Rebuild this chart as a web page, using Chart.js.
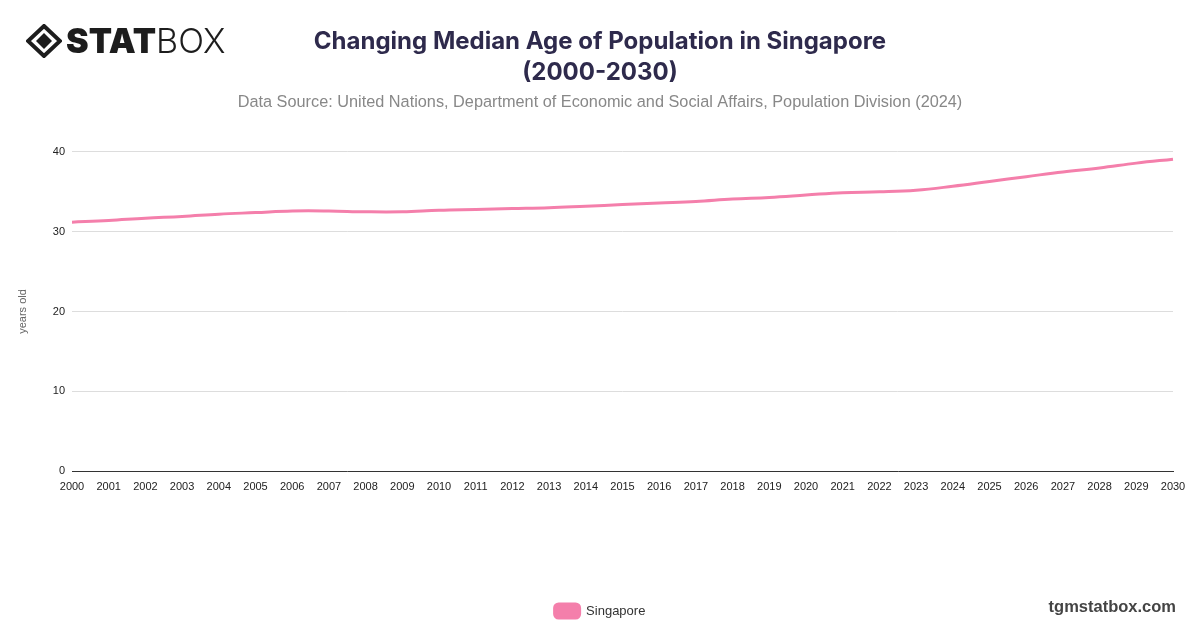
<!DOCTYPE html>
<html>
<head>
<meta charset="utf-8">
<script src="https://cdn.jsdelivr.net/npm/chart.js@4.4.1/dist/chart.umd.min.js"></script>
<style>
  html, body { margin: 0; padding: 0; background: #fff; }
  #wrap { position: relative; width: 1200px; height: 628px; }
  #logo { position: absolute; left: 26px; top: 20px; display: flex; align-items: center; font-family: Inter, sans-serif; color: #1d1d1d; }
  #logo .stat { font-size: 34px; font-weight: 900; margin-left: 4px; }
  #logo .box { font-size: 34px; font-weight: 300; }
  #site { position: absolute; right: 24px; top: 597px; font-family: "Liberation Sans", Arial, sans-serif; font-weight: bold; font-size: 16.5px; color: #444; }
</style>
</head>
<body>
<div id="wrap">
  <canvas id="ageChart" width="1200" height="628"></canvas>
  <div id="logo">
    <svg width="36" height="34" viewBox="0 0 36 34">
      <polygon points="18,2 34,17 18,32 2,17" fill="none" stroke="#1d1d1d" stroke-width="4"/>
      <polygon points="18,9 26,17 18,25 10,17" fill="#1d1d1d"/>
    </svg>
    <span class="stat">STAT</span><span class="box">BOX</span>
  </div>
  <div id="site">tgmstatbox.com</div>
</div>
<script>
  // chart data
  const years = ['2000','2001','2002','2003','2004','2005','2006','2007','2008','2009',
    '2010','2011','2012','2013','2014','2015','2016','2017','2018','2019',
    '2020','2021','2022','2023','2024','2025','2026','2027','2028','2029','2030'];
  const medianAge = [31.2, 31.4, 31.7, 31.9, 32.2, 32.4, 32.6, 32.6, 32.5, 32.5,
    32.7, 32.8, 32.9, 33.0, 33.2, 33.4, 33.6, 33.8, 34.1, 34.3,
    34.6, 34.9, 35.0, 35.2, 35.7, 36.3, 36.9, 37.5, 38.0, 38.6, 39.1];
  const yTicks = [0, 10, 20, 30, 40];

  const ctx = document.getElementById('ageChart');
  new Chart(ctx, {
    type: 'line',
    data: {
      labels: years,
      datasets: [{
        label: 'Singapore',
        data: medianAge,
        borderColor: '#f47fab',
        backgroundColor: '#f47fab',
        borderWidth: 3,
        tension: 0.4,
        pointRadius: 0,
        fill: false
      }]
    },
    options: {
      responsive: false,
      animation: false,
      layout: { padding: { left: 27, right: 27, top: 0, bottom: 0 } },
      plugins: {
        title: {
          display: true,
          text: ['Changing Median Age of Population in Singapore', '(2000-2030)'],
          color: '#2e2a4c',
          font: { family: 'Inter', size: 24, weight: 'bold', lineHeight: 1.3 },
          padding: { top: 26, bottom: 4 }
        },
        subtitle: {
          display: true,
          text: 'Data Source: United Nations, Department of Economic and Social Affairs, Population Division (2024)',
          color: '#888',
          font: { family: 'Liberation Sans', size: 16.3 },
          padding: { top: 0, bottom: 40 }
        },
        legend: {
          position: 'bottom',
          labels: {
            color: '#333',
            font: { family: 'Liberation Sans', size: 13 },
            boxWidth: 25,
            boxHeight: 14,
            useBorderRadius: true,
            borderRadius: 4,
            padding: 10
          }
        },
        tooltip: { enabled: false }
      },
      scales: {
        x: {
          grid: { display: false },
          border: { color: '#333', width: 1 },
          ticks: { color: '#222', font: { family: 'Liberation Sans', size: 11 }, maxRotation: 0, autoSkip: false, padding: 1 },
          afterFit: function(scale) { scale.height = 123; }
        },
        y: {
          min: 0,
          max: 40,
          afterBuildTicks: function(scale) { scale.ticks = yTicks.map(v => ({ value: v })); },
          grid: { color: '#dddddd', drawTicks: false },
          border: { display: false },
          ticks: { color: '#222', font: { family: 'Liberation Sans', size: 11 }, padding: 7 },
          title: { display: true, text: 'years old', color: '#666', font: { family: 'Liberation Sans', size: 11 }, padding: { top: -11, bottom: 0 } },
          afterFit: function(scale) { scale.width = 45; }
        }
      }
    }
  });
</script>
</body>
</html>
